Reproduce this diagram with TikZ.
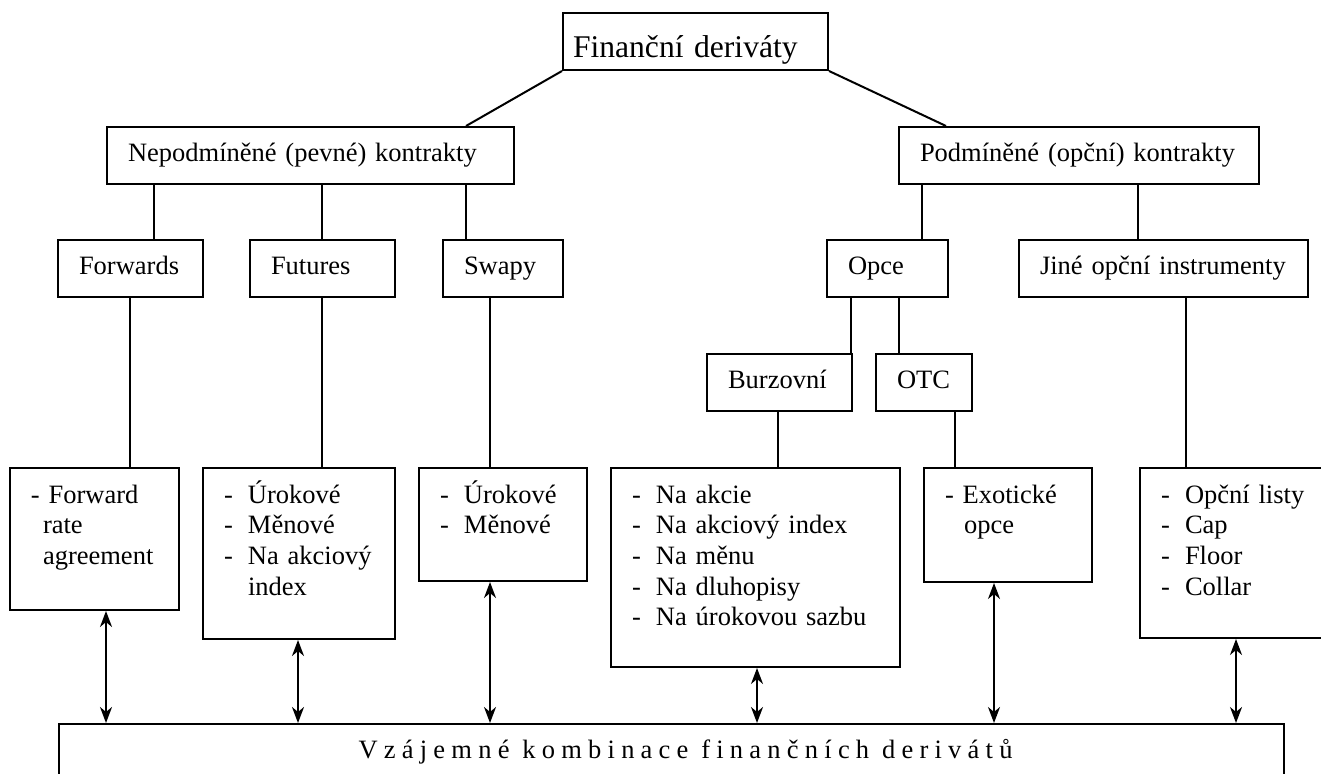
\documentclass[tikz,border=0pt]{standalone}
\usepackage{fontspec}
\setmainfont{Liberation Serif}
\usepackage{tikz}
\usetikzlibrary{arrows.meta}

\newcommand{\dashitem}{\makebox[12pt][l]{-}}

\begin{document}
\begin{tikzpicture}[x=0.5pt, y=-0.5pt,
    box/.style={draw, line width=1pt, anchor=north west, inner xsep=10.5pt, inner ysep=0pt,
        align=left, minimum height=28.5pt, text height=6.5pt, text depth=0pt,
        font=\fontsize{13.25pt}{15.35pt}\selectfont},
    list/.style={box, minimum height=0pt, text height=17.5pt},
    link/.style={line width=1pt},
    both/.style={line width=1pt, <->, >={Stealth[length=8pt, width=6pt, inset=2.5pt]}}]

    \clip (0,0) rectangle (1321,774);

    % top of the tree
    \node[box, inner xsep=5pt, minimum width=132.5pt, text width=122.5pt, text height=16.2pt,
        font=\fontsize{15.8pt}{18pt}\selectfont] (top) at (562,12) {Finanční deriváty};
    \node[box, minimum width=203.5pt, text width=182.5pt] (nep) at (106,126) {Nepodmíněné (pevné) kontrakty};
    \node[box, minimum width=180pt, text width=159pt] (pod) at (898,126) {Podmíněné (opční) kontrakty};

    % instruments
    \node[box, minimum width=72.5pt, text width=51.5pt] (fwd) at (57,239) {Forwards};
    \node[box, minimum width=72.5pt, text width=51.5pt] (fut) at (249,239) {Futures};
    \node[box, minimum width=60pt, text width=39pt] (swp) at (442,239) {Swapy};
    \node[box, minimum width=60.5pt, text width=39.5pt] (opce) at (826,239) {Opce};
    \node[box, minimum width=144.5pt, text width=123.5pt] (jine) at (1018,239) {Jiné opční instrumenty};
    \node[box, minimum width=72.5pt, text width=51.5pt] (burz) at (706,353) {Burzovní};
    \node[box, minimum width=48pt, text width=27pt] (otc) at (875,353) {OTC};

    % lists
    \node[list, minimum width=84.5pt, text width=63.5pt, text depth=53.5pt] (fra) at (9,467)
        {- Forward\\\hspace*{6pt}rate\\\hspace*{6pt}agreement};
    \node[list, minimum width=96pt, text width=75pt, text depth=68pt] (futd) at (202,467)
        {\dashitem Úrokové\\\dashitem Měnové\\\dashitem Na akciový\\\hspace*{12pt}index};
    \node[list, minimum width=84pt, text width=63pt, text depth=39pt] (swpd) at (418,467)
        {\dashitem Úrokové\\\dashitem Měnové};
    \node[list, minimum width=144.5pt, text width=123.5pt, text depth=82pt] (burzd) at (610,467)
        {\dashitem Na akcie\\\dashitem Na akciový index\\\dashitem Na měnu\\\dashitem Na dluhopisy\\\dashitem Na úrokovou sazbu};
    \node[list, minimum width=84pt, text width=63pt, text depth=39.5pt] (otcd) at (923,467)
        {- Exotické\\\hspace*{9.5pt}opce};
    \node[list, minimum width=93pt, text width=72pt, text depth=67.5pt] (jined) at (1139,467)
        {\dashitem Opční listy\\\dashitem Cap\\\dashitem Floor\\\dashitem Collar};

    \node[draw, line width=1pt, anchor=north west, inner sep=0pt, minimum width=612.5pt,
        minimum height=27.5pt, text height=6.5pt, text depth=0pt,
        font=\fontsize{13.25pt}{15.35pt}\selectfont] (comb) at (58,723)
        {\hspace*{14pt}\addfontfeature{LetterSpace=23.5}Vzájemné kombinace finančních derivátů};

    \draw[link] (top.south west) -- (nep.north -| 466,0);
    \draw[link] (top.south east) -- (pod.north -| 946,0);
    \foreach \a/\b/\x in {nep/fwd/154, nep/fut/322, nep/swp/466, pod/opce/922, pod/jine/1138,
        fwd/fra/130, fut/futd/322, swp/swpd/490, opce/burz/851, opce/otc/899,
        burz/burzd/778, otc/otcd/955, jine/jined/1186}
        \draw[link] (\a.south -| \x,0) -- (\b.north -| \x,0);

    \foreach \n/\x in {fra/106, futd/298, swpd/490, burzd/757, otcd/994, jined/1236}
        \draw[both] (\n.south -| \x,0) -- (comb.north -| \x,0);
\end{tikzpicture}
\end{document}
